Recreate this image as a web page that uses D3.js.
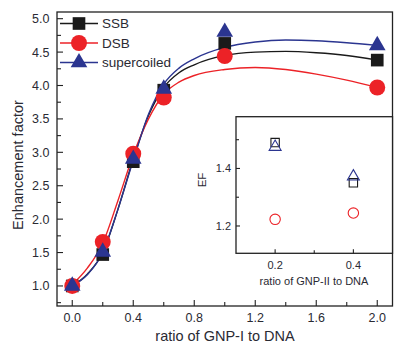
<!DOCTYPE html>
<html>
<head>
<meta charset="utf-8">
<script src="https://cdn.jsdelivr.net/npm/d3@7"></script>
<style>
  body { margin: 0; background: #fff; }
  svg { display: block; font-family: "Liberation Sans", Arial, sans-serif; }
</style>
</head>
<body>
<div id="chart"></div>
<script>
// measured points (main panel)
const ratioI = [0, 0.2, 0.4, 0.6, 1.0, 2.0];
const ssbEF = [1.0, 1.47, 2.86, 3.93, 4.63, 4.38];
const dsbEF = [1.0, 1.66, 2.98, 3.82, 4.44, 3.97];
const superEF = [1.0, 1.51, 2.9, 3.95, 4.8, 4.6];

// fitted curves
const fitX = [0, 0.1, 0.2, 0.3, 0.4, 0.5, 0.6, 0.7, 0.8, 1.0, 1.2, 1.4, 1.6, 1.8, 2.0];
const ssbFit = [1.0, 1.18, 1.5, 2.15, 2.9, 3.55, 3.97, 4.19, 4.31, 4.45, 4.5, 4.51, 4.49, 4.45, 4.38];
const dsbFit = [1.02, 1.27, 1.64, 2.28, 2.96, 3.5, 3.87, 4.05, 4.15, 4.24, 4.27, 4.24, 4.17, 4.08, 3.97];
const superFit = [1.0, 1.17, 1.5, 2.15, 2.88, 3.57, 4.02, 4.26, 4.4, 4.57, 4.65, 4.68, 4.67, 4.64, 4.6];

// inset
const ratioII = [0.2, 0.4];
const insetSSB = [1.49, 1.35];
const insetDSB = [1.223, 1.245];
const insetSuper = [1.475, 1.372];

const xTicks = [0, 0.4, 0.8, 1.2, 1.6, 2.0];
const yTicks = [1.0, 1.5, 2.0, 2.5, 3.0, 3.5, 4.0, 4.5, 5.0];
const insetXTicks = [0.2, 0.4];
const insetYTicks = [1.2, 1.4];

const series = [
    { name: "SSB", pts: ssbEF, fit: ssbFit, inset: insetSSB, color: "#1a1a1a", symbol: d3.symbolSquare, size: 160, insetSize: 70 },
    { name: "DSB", pts: dsbEF, fit: dsbFit, inset: insetDSB, color: "#ec2227", symbol: d3.symbolCircle, size: 200, insetSize: 85 },
    { name: "supercoiled", pts: superEF, fit: superFit, inset: insetSuper, color: "#2b3590", symbol: d3.symbolTriangle, size: 120, insetSize: 62 }
];

const W = 400, H = 351;
const textColor = "#2a2a33";

const svg = d3.select("#chart").append("svg")
    .attr("width", W)
    .attr("height", H);

const x = d3.scaleLinear().domain([-0.1, 2.1]).range([57, 392.5]);
const y = d3.scaleLinear().domain([0.7, 5.1]).range([306, 12]);

// frame
svg.append("rect")
    .attr("x", x.range()[0]).attr("y", y.range()[1])
    .attr("width", x.range()[1] - x.range()[0])
    .attr("height", y.range()[0] - y.range()[1])
    .attr("fill", "none")
    .attr("stroke", "#222")
    .attr("stroke-width", 1.3);

function inwardTicks(g, scale, major, minor, orient, at, majorLen, minorLen) {
    const all = major.map(v => ({ v, len: majorLen })).concat(minor.map(v => ({ v, len: minorLen })));
    g.selectAll(null)
        .data(all)
        .enter().append("line")
        .attr("x1", d => orient === "x" ? scale(d.v) : at)
        .attr("x2", d => orient === "x" ? scale(d.v) : at + d.len)
        .attr("y1", d => orient === "x" ? at : scale(d.v))
        .attr("y2", d => orient === "x" ? at - d.len : scale(d.v))
        .attr("stroke", "#222")
        .attr("stroke-width", 1.1);
}

const axes = svg.append("g");
inwardTicks(axes, x, xTicks, [0.2, 0.6, 1.0, 1.4, 1.8], "x", 306, 6, 4);
inwardTicks(axes, y, yTicks, [0.75, 1.25, 1.75, 2.25, 2.75, 3.25, 3.75, 4.25, 4.75], "y", 57, 6, 4);

axes.selectAll(".xt")
    .data(xTicks)
    .enter().append("text")
    .attr("x", d => x(d))
    .attr("y", 321.5)
    .attr("text-anchor", "middle")
    .attr("font-size", 12.5)
    .attr("fill", textColor)
    .text(d => d.toFixed(1));

axes.selectAll(".yt")
    .data(yTicks)
    .enter().append("text")
    .attr("x", 49.5)
    .attr("y", d => y(d) + 4.5)
    .attr("text-anchor", "end")
    .attr("font-size", 12.5)
    .attr("fill", textColor)
    .text(d => d.toFixed(1));

svg.append("text")
    .attr("x", 225)
    .attr("y", 341)
    .attr("text-anchor", "middle")
    .attr("font-size", 14.5)
    .attr("fill", textColor)
    .text("ratio of GNP-I to DNA");

svg.append("text")
    .attr("transform", "translate(23,165) rotate(-90)")
    .attr("text-anchor", "middle")
    .attr("font-size", 14.5)
    .attr("fill", textColor)
    .text("Enhancement factor");

// fitted curves
const line = d3.line()
    .x((d, i) => x(fitX[i]))
    .y(d => y(d))
    .curve(d3.curveMonotoneX);

series.forEach(s => {
    svg.append("path")
        .datum(s.fit)
        .attr("d", line)
        .attr("fill", "none")
        .attr("stroke", s.color)
        .attr("stroke-width", 1.4);
});

// markers
series.forEach(s => {
    svg.selectAll(null)
        .data(s.pts)
        .enter().append("path")
        .attr("d", d3.symbol().type(s.symbol).size(s.size))
        .attr("transform", (d, i) => `translate(${x(ratioI[i])},${y(d)})`)
        .attr("fill", s.color);
});

// legend
const legend = svg.selectAll(".legend")
    .data(series)
    .enter().append("g")
    .attr("transform", (d, i) => `translate(0,${23.5 + i * 19.5})`);

legend.append("line")
    .attr("x1", 60).attr("x2", 98)
    .attr("stroke", d => d.color)
    .attr("stroke-width", 1.4);

legend.append("path")
    .attr("d", d => d3.symbol().type(d.symbol).size(d.size)())
    .attr("transform", "translate(79,0)")
    .attr("fill", d => d.color);

legend.append("text")
    .attr("x", 102)
    .attr("y", 4.5)
    .attr("font-size", 13.5)
    .attr("fill", textColor)
    .text(d => d.name);

// inset
const ix = d3.scaleLinear().domain([0.1, 0.5]).range([236, 392.5]);
const iy = d3.scaleLinear().domain([1.105, 1.58]).range([253.3, 116.7]);

svg.append("rect")
    .attr("x", 236).attr("y", 116.7)
    .attr("width", 392.5 - 236)
    .attr("height", 253.3 - 116.7)
    .attr("fill", "#fff")
    .attr("stroke", "#222")
    .attr("stroke-width", 1.3);

const inset = svg.append("g");
inwardTicks(inset, ix, insetXTicks, [0.3], "x", 253.3, 4, 3);
inwardTicks(inset, iy, insetYTicks, [1.3, 1.5], "y", 236, 4, 3);

inset.selectAll(".ixt")
    .data(insetXTicks)
    .enter().append("text")
    .attr("x", d => ix(d))
    .attr("y", 269)
    .attr("text-anchor", "middle")
    .attr("font-size", 11)
    .attr("fill", textColor)
    .text(d => d.toFixed(1));

inset.selectAll(".iyt")
    .data(insetYTicks)
    .enter().append("text")
    .attr("x", 231)
    .attr("y", d => iy(d) + 4)
    .attr("text-anchor", "end")
    .attr("font-size", 11)
    .attr("fill", textColor)
    .text(d => d.toFixed(1));

inset.append("text")
    .attr("x", 314)
    .attr("y", 285)
    .attr("text-anchor", "middle")
    .attr("font-size", 11)
    .attr("fill", textColor)
    .text("ratio of GNP-II to DNA");

inset.append("text")
    .attr("transform", "translate(206,180) rotate(-90)")
    .attr("text-anchor", "middle")
    .attr("font-size", 11.5)
    .attr("fill", textColor)
    .text("EF");

series.forEach(s => {
    inset.selectAll(null)
        .data(s.inset)
        .enter().append("path")
        .attr("d", d3.symbol().type(s.symbol).size(s.insetSize))
        .attr("transform", (d, i) => `translate(${ix(ratioII[i])},${iy(d)})`)
        .attr("fill", "none")
        .attr("stroke", s.color)
        .attr("stroke-width", 1.1);
});
</script>
</body>
</html>
